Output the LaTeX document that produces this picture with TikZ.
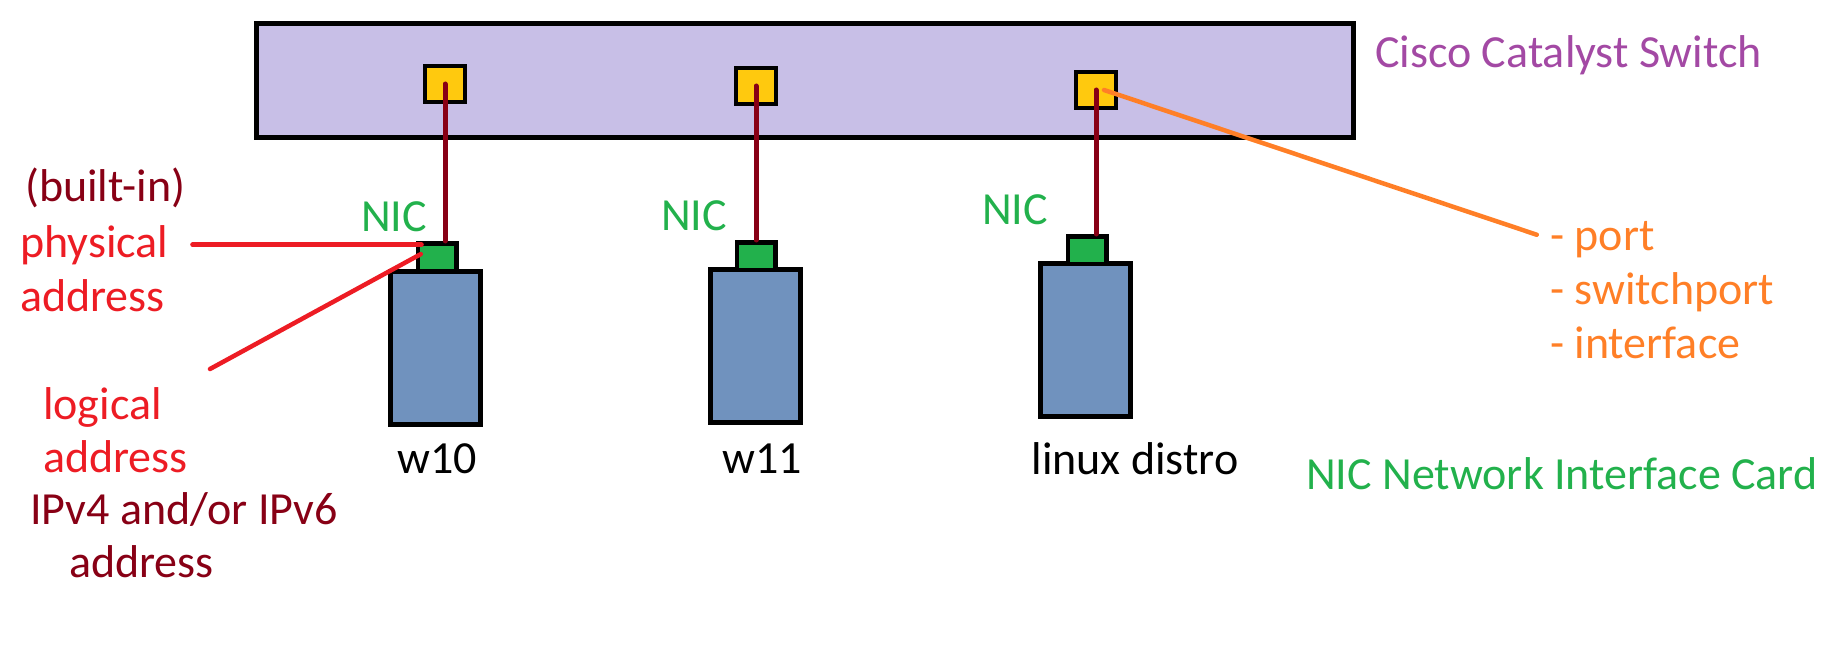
\documentclass[tikz,border=0pt]{standalone}
\usepackage{fontspec}
\setmainfont{Carlito}
\definecolor{swfill}{RGB}{200,191,231}
\definecolor{portfill}{RGB}{255,201,14}
\definecolor{nicgreen}{RGB}{34,177,76}
\definecolor{pcfill}{RGB}{112,146,190}
\definecolor{darkred}{RGB}{136,0,21}
\definecolor{brightred}{RGB}{237,28,36}
\definecolor{paintorange}{RGB}{255,127,39}
\definecolor{paintpurple}{RGB}{163,73,164}
\begin{document}
\begin{tikzpicture}[x=1pt,y=-1pt,
    font=\fontsize{46}{55}\selectfont,
    box/.style={draw=black,line width=5pt,inner sep=0pt},
    switch/.style={box,fill=swfill,minimum width=1097pt,minimum height=114pt},
    port/.style={box,line width=4.5pt,fill=portfill,minimum width=40pt,minimum height=36pt},
    pc/.style={box,fill=pcfill,minimum width=90pt,minimum height=153pt},
    nic/.style={box,line width=4.5pt,fill=nicgreen,minimum width=38.5pt,minimum height=27.5pt},
    txt/.style={inner sep=0pt,anchor=base west},
    cable/.style={darkred,line width=5pt,line cap=round},
    pointer/.style={line width=4.5pt,line cap=round}]
  \useasboundingbox (0,0) rectangle (1833,663);
  \draw
    (805,80.5) node[switch] (sw){}
    (445,84) node[port] (p1){}
    (756,86) node[port] (p2){}
    (1096,90) node[port] (p3){}
    (435,348) node[pc] (pc1){}
    (755.5,345.5) node[pc] (pc2){}
    (1085.5,340) node[pc] (pc3){}
    (437,257) node[nic] (n1){}
    (756,256) node[nic] (n2){}
    (1087,250) node[nic] (n3){};
  % labels
  \path
    (1375,68) node[txt,paintpurple] (swlbl){Cisco Catalyst Switch}
    (437,473) node[inner sep=0pt,anchor=base] (w10){w10}
    (762,473) node[inner sep=0pt,anchor=base] (w11){w11}
    (1135,474) node[inner sep=0pt,anchor=base] (linux){linux distro}
    (361,232) node[txt,nicgreen] (nic1){NIC}
    (661,230) node[txt,nicgreen] (nic2){NIC}
    (982,224) node[txt,nicgreen] (nic3){NIC}
    (1306,489) node[txt,nicgreen] (legend){NIC Network Interface Card}
    (25,202) node[txt,darkred] (builtin){(built-in)}
    (20,257) node[txt,brightred] (phys){physical}
    (20,311) node[txt,brightred] (physaddr){address}
    (43,419) node[txt,brightred] (logic){logical}
    (43,472) node[txt,brightred] (logicaddr){address}
    (30,524) node[txt,darkred] (ip){IPv4 and/or IPv6}
    (69,577) node[txt,darkred] (ipaddr){address}
    (1550,250) node[txt,paintorange] (port){- port}
    (1550,304) node[txt,paintorange] (swport){- switchport}
    (1550,358) node[txt,paintorange] (iface){- interface};
  \coordinate (logtip) at (210,369);
  \begin{scope}[cable]
    \draw (p1.center) to (p1 |- n1.north);
    \draw (p2.center) to (p2 |- n2.north);
    \draw (p3.center) to (p3 |- n3.north);
  \end{scope}
  \begin{scope}[pointer]
    \draw[brightred,shorten <=24pt,shorten >=-6pt] (phys.east) to (phys.east -| n1.west);
    \draw[brightred,shorten >=-6pt] (logtip) to (n1.west);
    \draw[paintorange,shorten >=14pt] ([xshift=8pt]p3.center) to (port.west);
  \end{scope}
\end{tikzpicture}
\end{document}
